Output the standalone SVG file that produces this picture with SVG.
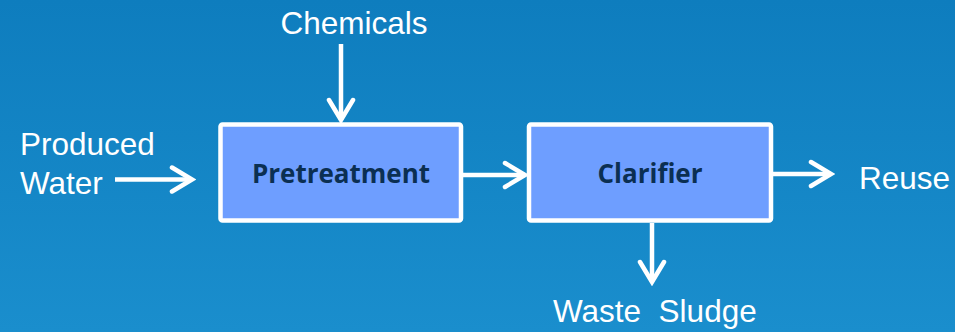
<svg xmlns="http://www.w3.org/2000/svg" width="955" height="332" viewBox="0 0 955 332">
<defs>
<linearGradient id="bg" x1="0" y1="0" x2="0" y2="1">
<stop offset="0" stop-color="#0e7dbe"/>
<stop offset="1" stop-color="#1a8ecd"/>
</linearGradient>
<marker id="arr" markerUnits="userSpaceOnUse" viewBox="-24 -16 28 32" markerWidth="28" markerHeight="32" refX="0" refY="0" orient="auto">
<path d="M-20,-12 L0,0 L-20,12" fill="none" stroke="#ffffff" stroke-width="4.5" stroke-linecap="round" stroke-linejoin="miter"/>
</marker>
</defs>
<style>
.box{fill:#6e9eff;stroke:#ffffff;stroke-width:4.5}
.bl{font-family:"Open Sans","DejaVu Sans",sans-serif;font-weight:bold;font-size:26px;fill:#0b2f52;text-anchor:middle}
.lb{font-family:"Liberation Sans",Arial,sans-serif;font-size:31.5px;fill:#ffffff}
.c{stroke:#ffffff;stroke-width:4.5;fill:none;marker-end:url(#arr)}
</style>
<rect width="955" height="332" fill="url(#bg)"/>
<g id="connectors">
<line class="c" x1="341" y1="44" x2="341" y2="120"/>
<line class="c" x1="115" y1="179.5" x2="192" y2="179.5"/>
<line class="c" x1="463" y1="175" x2="525" y2="175"/>
<line class="c" x1="773" y1="174" x2="831" y2="174"/>
<line class="c" x1="652" y1="223" x2="652" y2="282"/>
</g>
<g id="pretreatment">
<rect class="box" x="220.5" y="124.5" width="240.5" height="96" rx="2"/>
<text class="bl" x="341" y="183">Pretreatment</text>
</g>
<g id="clarifier">
<rect class="box" x="529" y="124.5" width="242" height="96" rx="2"/>
<text class="bl" x="650" y="183">Clarifier</text>
</g>
<g id="labels">
<text class="lb" x="354" y="34" text-anchor="middle">Chemicals</text>
<text class="lb" x="20" y="155">Produced</text>
<text class="lb" x="20" y="194">Water</text>
<text class="lb" x="859" y="189">Reuse</text>
<text class="lb" x="553" y="322" xml:space="preserve">Waste  Sludge</text>
</g>
</svg>
